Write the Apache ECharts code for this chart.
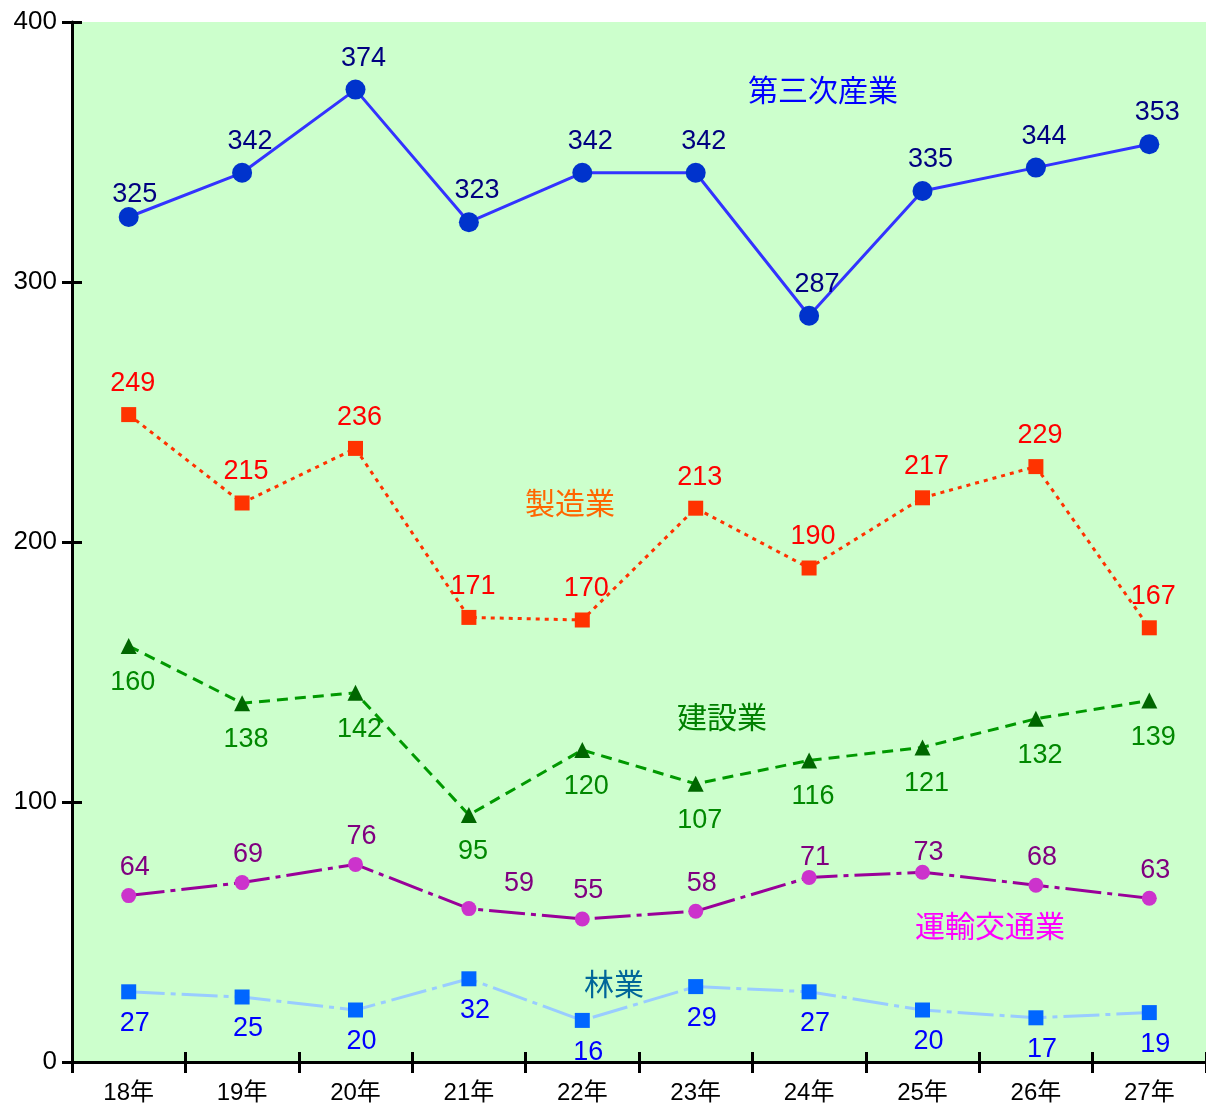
<!DOCTYPE html>
<html>
<head>
<meta charset="utf-8">
<script src="https://cdn.jsdelivr.net/npm/echarts@6/dist/echarts.min.js"></script>
<style>
  html, body { margin: 0; padding: 0; background: #ffffff; }
  #chart { width: 1206px; height: 1106px; }
</style>
</head>
<body>
<div id="chart"></div>
<script>
// 年度（カテゴリ）
const years = ['18年', '19年', '20年', '21年', '22年', '23年', '24年', '25年', '26年', '27年'];

// 業種別の件数
const tertiary = [325, 342, 374, 323, 342, 342, 287, 335, 344, 353];      // 第三次産業
const manufacturing = [249, 215, 236, 171, 170, 213, 190, 217, 229, 167]; // 製造業
const construction = [160, 138, 142, 95, 120, 107, 116, 121, 132, 139];   // 建設業
const transport = [64, 69, 76, 59, 55, 58, 71, 73, 68, 63];               // 運輸交通業
const forestry = [27, 25, 20, 32, 16, 29, 27, 20, 17, 19];                // 林業

// 縦軸目盛
const yTicks = [0, 100, 200, 300, 400];

const FONT = '"Liberation Sans", Arial, "Noto Sans CJK JP", sans-serif';
const JFONT = '"Noto Sans CJK JP", "Liberation Sans", sans-serif';

const chart = echarts.init(document.getElementById('chart'), null, { renderer: 'canvas' });

function valueLabel(color, position, extra) {
  return Object.assign({
    show: true,
    position: position,
    distance: 9,
    offset: [6, 0],
    color: color,
    fontSize: 27,
    fontFamily: FONT
  }, extra || {});
}

// 個別にラベル位置を調整する点
function withLabelOffsets(values, offsets) {
  return values.map((v, i) => offsets[i]
    ? { value: v, label: { offset: offsets[i] } }
    : v);
}

const tertiaryData = withLabelOffsets(tertiary, { 0: [6, 9] });
const transportData = withLabelOffsets(transport, { 3: [50, 3], 6: [6, 8], 7: [6, 8] });

const axisLineStyle = { color: '#000', width: 3 };

const option = {
  backgroundColor: '#ffffff',
  animation: false,
  grid: {
    left: 72, right: 0, top: 22, bottom: 44,
    show: true, backgroundColor: '#CCFFCC', borderWidth: 0
  },
  xAxis: [
    {
      type: 'category',
      data: years,
      boundaryGap: true,
      position: 'bottom',
      axisLine: { show: true, lineStyle: axisLineStyle },
      axisTick: { show: true, length: 11, lineStyle: { color: '#000', width: 3 } },
      axisLabel: { color: '#000', fontSize: 24, fontFamily: FONT, margin: 19 },
      splitLine: { show: false }
    },
    {
      type: 'category',
      data: years,
      boundaryGap: true,
      position: 'bottom',
      axisLine: { show: false },
      axisTick: { show: true, inside: true, length: 10, lineStyle: { color: '#000', width: 3 } },
      axisLabel: { show: false },
      splitLine: { show: false }
    }
  ],
  yAxis: [
    {
      type: 'value',
      min: 0, max: 400, interval: 100,
      axisLine: { show: true, lineStyle: axisLineStyle },
      axisTick: { show: true, length: 10, lineStyle: { color: '#000', width: 3 } },
      axisLabel: {
        color: '#000', fontSize: 26, fontFamily: FONT, margin: 15,
        formatter: v => yTicks.includes(v) ? String(v) : ''
      },
      splitLine: { show: false }
    },
    {
      type: 'value',
      min: 0, max: 400, interval: 100,
      position: 'left',
      axisLine: { show: false },
      axisTick: { show: true, inside: true, length: 10, lineStyle: { color: '#000', width: 3 } },
      axisLabel: { show: false },
      splitLine: { show: false }
    }
  ],
  series: [
    {
      name: '第三次産業',
      type: 'line',
      data: tertiaryData,
      symbol: 'circle',
      symbolSize: 20,
      itemStyle: { color: '#0033CC' },
      lineStyle: { color: '#3333FF', width: 3, type: 'solid' },
      label: valueLabel('#000080', 'top', { distance: 8, offset: [8, 0] }),
      z: 5
    },
    {
      name: '製造業',
      type: 'line',
      data: manufacturing,
      symbol: 'rect',
      symbolSize: 15,
      itemStyle: { color: '#FF3300' },
      lineStyle: { color: '#FF3300', width: 3, type: [4, 5] },
      label: valueLabel('#FF0000', 'top', { distance: 10, offset: [4, 0] }),
      z: 4
    },
    {
      name: '建設業',
      type: 'line',
      data: construction,
      symbol: 'triangle',
      symbolSize: 16,
      itemStyle: { color: '#006600' },
      lineStyle: { color: '#009900', width: 3, type: [11, 7] },
      label: valueLabel('#008800', 'bottom', { distance: 15, offset: [4, 0] }),
      z: 3
    },
    {
      name: '運輸交通業',
      type: 'line',
      data: transportData,
      symbol: 'circle',
      symbolSize: 15,
      itemStyle: { color: '#CC33CC' },
      lineStyle: { color: '#990099', width: 3, type: [36, 6, 5, 6] },
      label: valueLabel('#800080', 'top', { distance: 7, offset: [6, 0] }),
      z: 3
    },
    {
      name: '林業',
      type: 'line',
      data: forestry,
      symbol: 'rect',
      symbolSize: 15,
      itemStyle: { color: '#0066FF' },
      lineStyle: { color: '#99CCFF', width: 3, type: [36, 6, 5, 6] },
      label: valueLabel('#0000FF', 'bottom', { distance: 11, offset: [6, 0] }),
      z: 3
    }
  ],
  graphic: [
    { type: 'text', left: 748, top: 75, z: 10,
      style: { text: '第三次産業', fill: '#0000FF', font: '30px ' + JFONT } },
    { type: 'text', left: 525, top: 488, z: 10,
      style: { text: '製造業', fill: '#FF6600', font: '30px ' + JFONT } },
    { type: 'text', left: 677, top: 702, z: 10,
      style: { text: '建設業', fill: '#008000', font: '30px ' + JFONT } },
    { type: 'text', left: 915, top: 911, z: 10,
      style: { text: '運輸交通業', fill: '#FF00FF', font: '30px ' + JFONT } },
    { type: 'text', left: 584, top: 969, z: 10,
      style: { text: '林業', fill: '#006699', font: '30px ' + JFONT } }
  ]
};

chart.setOption(option);
</script>
</body>
</html>
